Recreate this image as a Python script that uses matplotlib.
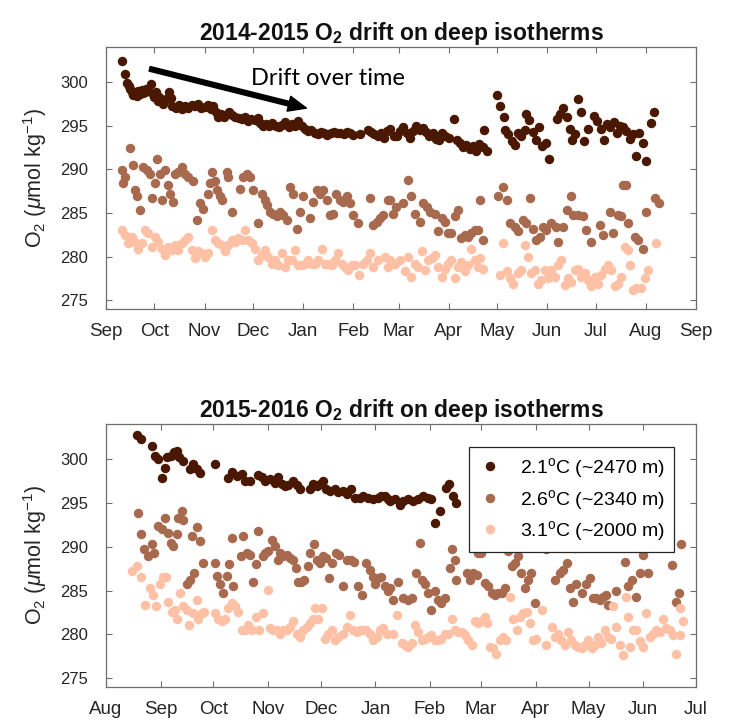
import numpy as np
import matplotlib
matplotlib.use('Agg')
import matplotlib.pyplot as plt
import matplotlib.dates as mdates

plt.rcParams['font.family'] = 'Liberation Sans'
plt.rcParams['mathtext.fontset'] = 'custom'
plt.rcParams['mathtext.rm'] = 'Liberation Sans'
plt.rcParams['mathtext.it'] = 'Liberation Sans:italic'
plt.rcParams['mathtext.bf'] = 'Liberation Sans:bold'

# ---- 2014-2015 (days since 2014-09-01) ----
start_a = '2014-09-01'
d21_a_day = [10, 12, 13, 14, 15, 16, 17, 18, 19, 20, 21, 22, 23, 24, 25, 26, 28, 29, 30, 31, 32, 33, 35, 36,
             37, 39, 40, 41, 43, 45, 47, 49, 51, 53, 55, 57, 59, 61, 63, 65, 66, 68, 69, 71, 73, 76, 78, 80,
             82, 84, 86, 88, 90, 92, 94, 95, 97, 99, 101, 103, 105, 107, 109, 111, 113, 115, 117, 119, 121,
             123, 125, 127, 129, 131, 133, 135, 137, 139, 141, 143, 145, 147, 149, 151, 153, 157, 162, 164,
             166, 168, 170, 172, 174, 176, 178, 180, 182, 184, 186, 188, 190, 192, 194, 196, 198, 200, 202,
             204, 206, 208, 210, 212, 215, 217, 219, 221, 223, 225, 227, 229, 231, 233, 234, 236,
             242, 244, 246, 247, 249, 251, 253, 255, 257, 259, 260, 262, 264, 266, 268, 270, 272, 274, 279,
             281, 283, 285, 287, 288, 290, 292, 294, 296, 298, 302, 304, 306, 308, 310, 312, 314, 316, 318,
             320, 322, 324, 326, 328, 330, 332, 334, 337, 339]
d21_a_o2 = [302.4, 300.9, 299.9, 299.5, 299.2, 298.8, 298.5, 298.9, 298.4, 299.0, 298.6, 299.1, 298.7, 298.9,
            299.2, 299.0, 299.8, 298.6, 298.3, 298.8, 297.8, 298.3, 297.5, 297.8, 298.1, 298.9, 298.2, 297.3,
            297.0, 297.4, 296.9, 297.2, 297.0, 297.4, 297.2, 297.5, 297.0, 297.1, 297.4, 296.9, 297.2, 296.6,
            296.0, 296.3, 296.0, 296.5, 296.2, 296.0, 295.9, 295.8, 296.0, 295.5, 295.8, 295.6, 295.9, 295.3,
            295.0, 295.2, 294.9, 295.3, 295.0, 294.8, 295.1, 295.4, 294.8, 295.2, 294.9, 295.5, 294.9, 294.6,
            294.4, 294.5, 294.2, 294.0, 294.3, 294.1, 293.9, 294.2, 294.3, 294.1, 294.2, 294.0, 294.3, 294.1,
            293.9, 294.0, 294.5, 294.3, 294.0, 293.8, 294.1, 293.6, 294.4, 294.6, 293.8, 293.8, 294.4, 294.8,
            294.2, 293.6, 294.4, 295.0, 294.5, 294.7, 294.3, 293.8, 294.1, 293.5, 293.3, 294.2, 293.8, 293.6,
            295.8, 293.4, 293.0, 292.5, 292.8, 292.3, 292.7, 292.1, 292.9, 292.5, 294.5, 292.1,
            298.5, 297.2, 296.0, 294.5, 294.0, 293.2, 292.8, 294.2, 293.8, 294.5, 296.3, 295.6, 294.3, 293.4,
            294.8, 292.7, 293.0, 291.2, 295.8, 296.3, 297.0, 296.0, 294.6, 293.4, 294.0, 298.0, 296.5, 293.2,
            294.6, 296.1, 295.5, 294.6, 293.4, 295.2, 294.8, 295.4, 294.2, 295.0, 294.8, 294.4, 293.5, 294.0,
            291.5, 294.1, 293.0, 290.9, 295.3, 296.5]

d26_a_day = [9.7, 11.8, 10.7, 14.8, 16.9, 17.9, 19.4, 21.0, 23.1, 25.1, 27.2, 28.2, 30.3, 31.7, 33.4, 34.4,
             36.5, 38.5, 39.6, 41.6, 42.7, 44.7, 46.8, 48.9, 50.9, 54.0, 56.1, 58.1, 60.2, 63.3, 64.3, 65.3,
             67.4, 68.4, 70.5, 71.5, 74.6, 75.6, 77.7, 82.9, 84.9, 87.0, 89.1, 91.1, 94.2, 96.3, 98.3, 99.4,
             101.4, 103.5, 105.5, 107.6, 109.7, 111.7, 113.8, 115.9, 117.9, 120.0, 122.0, 126.2, 128.2, 130.3,
             132.3, 134.4, 136.5, 138.5, 140.6, 142.6, 144.7, 146.8, 148.8, 150.9, 152.9, 156.0, 163.3, 165.3,
             167.4, 169.5, 171.5, 174.6, 175.6, 177.7, 179.7, 183.8, 186.9, 189.0, 191.1, 194.2, 196.2, 198.3,
             200.3, 203.4, 205.5, 207.6, 209.6, 211.7, 213.7, 215.8, 217.9, 219.9, 222.0, 224.0, 226.1, 228.2,
             230.2, 231.3, 233.3, 242.6, 245.7, 247.8, 249.8, 252.9, 255.0, 258.1, 260.1, 262.2, 264.2, 266.3,
             268.4, 270.4, 272.5, 275.6, 278.7, 279.7, 282.8, 284.9, 287.9, 289.0, 292.1, 295.2, 297.2, 300.3,
             305.5, 307.5, 311.7, 313.7, 316.8, 318.9, 319.9, 322.0, 323.0, 327.1, 329.2, 332.3, 334.3, 339.5,
             342.2]
d26_a_o2 = [289.9, 289.1, 288.4, 292.4, 290.5, 287.6, 286.9, 285.3, 290.3, 289.9, 289.5, 286.7, 288.4, 291.2,
            289.5, 286.5, 289.9, 288.2, 287.2, 286.3, 289.5, 289.7, 290.3, 289.5, 289.1, 288.6, 284.2, 286.1,
            285.5, 287.2, 288.4, 289.7, 288.6, 287.6, 286.9, 286.5, 289.7, 289.1, 285.1, 287.7, 289.1, 289.5,
            289.1, 287.6, 283.8, 287.2, 286.5, 285.9, 285.1, 284.9, 284.6, 285.1, 284.8, 284.2, 288.0, 287.2,
            283.2, 285.1, 286.9, 284.4, 286.3, 287.6, 287.2, 287.6, 286.5, 284.8, 284.9, 287.2, 286.5, 286.3,
            286.9, 286.1, 284.8, 283.8, 286.7, 283.6, 284.0, 284.4, 284.8, 286.5, 286.5, 284.9, 285.7, 286.1,
            288.8, 286.9, 284.9, 284.0, 286.1, 285.7, 285.1, 284.9, 282.9, 284.4, 284.0, 282.7, 282.7, 284.6,
            285.3, 282.1, 282.5, 282.3, 282.7, 283.0, 283.0, 286.5, 281.9, 286.9, 288.0, 286.5, 283.8, 283.4,
            282.9, 284.2, 283.8, 286.7, 283.2, 281.9, 282.3, 283.4, 283.0, 283.8, 283.4, 281.7, 283.4, 285.3,
            286.9, 284.8, 284.8, 284.6, 283.0, 281.7, 283.6, 282.5, 285.1, 282.7, 284.8, 284.6, 288.2, 288.2,
            283.8, 282.3, 281.9, 280.9, 285.1, 286.7, 286.1]

d31_a_day = [9.7, 11.8, 13.8, 15.9, 17.9, 20.0, 22.1, 24.1, 26.2, 28.2, 30.3, 32.4, 34.4, 36.5, 38.5, 40.6,
             42.7, 44.7, 46.8, 48.9, 50.9, 53.0, 55.0, 57.1, 59.2, 61.2, 63.3, 65.3, 67.4, 69.5, 71.5, 73.6,
             75.7, 77.7, 79.8, 81.8, 83.9, 86.0, 88.0, 90.1, 92.1, 94.2, 96.3, 98.3, 100.4, 102.5, 104.5,
             106.6, 108.6, 110.7, 112.8, 114.8, 116.9, 118.9, 121.0, 123.1, 125.1, 127.2, 129.3, 131.3, 133.4,
             135.4, 137.5, 139.6, 141.6, 143.7, 145.7, 147.8, 149.9, 151.9, 154.0, 156.7, 159.1, 161.2, 163.3,
             165.3, 168.4, 172.5, 174.6, 175.6, 178.7, 181.8, 184.9, 186.9, 189.0, 191.1, 193.1, 195.2, 197.2,
             199.3, 201.4, 203.4, 205.5, 207.6, 209.6, 211.7, 213.7, 215.8, 217.9, 219.9, 222.0, 224.0, 226.1,
             228.2, 230.2, 231.3, 233.3, 243.6, 245.7, 247.8, 249.8, 251.9, 255.0, 257.0, 259.1, 261.1, 263.2,
             265.3, 267.3, 269.4, 271.5, 273.5, 275.6, 277.6, 279.7, 281.8, 283.8, 285.9, 287.9, 290.0, 292.1,
             294.1, 296.2, 298.3, 300.3, 302.4, 304.4, 306.5, 308.6, 310.6, 312.7, 314.7, 316.8, 318.9, 320.9,
             323.0, 324.0, 326.1, 328.1, 331.2, 333.3, 335.4, 340.5]
d31_a_o2 = [283.0, 282.5, 281.5, 282.3, 281.7, 280.9, 281.5, 283.0, 282.7, 281.1, 282.3, 281.7, 280.9, 280.2,
            281.1, 280.8, 281.3, 280.8, 281.5, 281.9, 282.3, 280.8, 279.8, 280.6, 280.4, 280.0, 280.4, 283.0,
            281.9, 281.5, 281.3, 280.6, 281.3, 281.9, 281.7, 282.1, 281.9, 283.0, 281.9, 281.5, 280.9, 279.6,
            280.2, 280.8, 280.0, 279.2, 279.6, 279.0, 280.4, 278.8, 279.6, 279.6, 280.8, 279.0, 279.0, 279.2,
            279.6, 279.2, 279.2, 279.6, 280.9, 279.2, 279.2, 279.0, 279.6, 280.4, 279.2, 278.8, 278.5, 279.0,
            279.0, 277.9, 279.2, 279.6, 280.4, 278.8, 279.6, 280.0, 278.8, 279.6, 279.2, 279.6, 278.3, 280.0,
            277.7, 279.2, 278.8, 280.6, 278.5, 279.6, 279.8, 280.2, 278.8, 277.7, 278.6, 279.2, 279.6, 277.5,
            278.8, 279.4, 278.3, 279.0, 280.9, 279.6, 278.8, 279.8, 278.6, 277.9, 281.5, 278.3, 277.5, 276.9,
            278.1, 278.5, 281.3, 280.0, 278.1, 278.5, 276.9, 277.3, 278.5, 277.5, 278.5, 277.7, 279.0, 279.6,
            276.7, 277.5, 277.1, 278.5, 278.6, 277.7, 278.1, 277.3, 276.6, 277.7, 276.9, 277.9, 278.6, 279.0,
            278.5, 276.6, 276.9, 277.7, 281.1, 280.8, 279.0, 276.2, 276.4, 276.4, 277.5, 278.5, 281.5]

# ---- 2015-2016 (days since 2015-08-01) ----
start_b = '2015-08-01'
d21_b_day = [17.8, 19.9, 25.9, 27.8, 29.7, 31.6, 33.5, 34.8, 36.7, 38.6, 40.1, 41.6, 43.5, 47.7, 49.6, 51.5,
             53.3, 61.7, 69.4, 71.3, 74.2, 77.0, 78.9, 81.7, 86.4, 88.3, 90.2, 93.1, 95.9, 97.8, 99.7, 101.6,
             103.5, 106.3, 108.2, 110.1, 115.8, 117.7, 119.6, 121.5, 123.3, 125.2, 127.1, 130.0, 131.8, 134.7,
             136.6, 139.4, 141.3, 144.1, 146.0, 148.9, 151.7, 154.6, 156.4, 158.3, 160.2, 161.2, 164.0, 166.9,
             168.8, 171.6, 174.4, 177.3, 180.1, 183.0, 184.8, 186.7, 189.6, 193.0, 194.9, 196.8, 198.7]
d21_b_o2 = [302.75, 302.3, 301.5, 300.4, 300.0, 297.8, 299.0, 300.2, 300.4, 300.8, 300.95, 300.2, 299.8, 298.85,
            299.4, 298.85, 298.4, 299.4, 297.8, 298.5, 298.1, 298.3, 297.5, 297.5, 298.2, 297.9, 297.5, 297.7,
            297.3, 297.9, 297.1, 296.9, 297.0, 297.5, 297.0, 296.6, 296.6, 297.1, 296.9, 297.1, 297.5, 296.6,
            296.4, 296.6, 296.2, 296.4, 296.0, 296.6, 295.6, 295.6, 295.8, 295.6, 295.4, 295.6, 295.8, 295.8,
            295.4, 295.2, 295.4, 294.8, 295.2, 295.4, 295.2, 295.4, 295.8, 295.6, 295.4, 292.7, 294.1, 296.75,
            297.1, 295.8, 295.0]

d26_b_day = [18.3, 19.9, 21.6, 24.0, 25.9, 27.2, 29.7, 31.6, 33.5, 35.4, 36.7, 38.2, 40.1, 41.0, 42.9, 43.9,
             46.2, 47.7, 50.1, 48.6, 51.8, 53.3, 55.2, 61.9, 63.2, 64.7, 66.6, 68.5, 70.0, 72.3, 71.3, 76.4,
             77.9, 79.8, 81.7, 83.2, 85.1, 86.4, 88.9, 90.2, 92.1, 94.0, 95.9, 97.8, 98.7, 100.6, 102.5, 104.4,
             106.3, 107.8, 109.1, 111.0, 112.6, 114.8, 116.1, 118.2, 119.9, 121.4, 123.3, 125.2, 126.7, 128.6,
             130.5, 132.4, 134.7, 136.6, 139.4, 140.7, 143.2, 145.1, 147.6, 149.8, 151.7, 152.7, 154.6, 156.4,
             158.3, 160.2, 161.2, 163.1, 165.9, 168.8, 171.6, 173.5, 176.3, 178.2, 179.2, 181.1, 183.0, 184.8,
             186.7, 188.6, 190.5, 192.4, 195.3, 196.2, 198.1, 199.0, 204.7, 206.6, 208.5, 210.4, 211.3, 213.2,
             215.1, 217.0, 218.9, 220.8, 222.7, 224.6, 226.5, 228.4, 230.3, 232.1, 234.0, 235.9, 237.8, 239.7,
             241.6, 243.5, 250.1, 254.8, 257.7, 259.6, 260.5, 261.5, 263.4, 265.2, 266.2, 267.1, 270.0, 272.8,
             274.7, 276.6, 278.5, 280.4, 282.3, 283.8, 285.1, 289.8, 294.6, 296.5, 298.4, 301.2, 303.1, 305.0,
             307.8, 318.2, 321.6, 323.9, 325.4, 326.7]
d26_b_o2 = [293.8, 291.5, 289.7, 288.9, 290.3, 289.3, 292.35, 292.0, 293.3, 291.6, 290.4, 290.1, 291.4, 293.3,
            294.1, 293.1, 285.7, 286.2, 287.0, 291.2, 292.2, 290.6, 288.2, 288.2, 286.7, 285.7, 284.7, 286.7,
            288.0, 285.5, 291.0, 288.9, 291.2, 289.3, 289.1, 286.0, 288.0, 291.8, 288.9, 289.3, 289.5, 290.8,
            290.1, 288.5, 289.3, 288.9, 289.1, 288.7, 288.5, 287.6, 286.0, 286.0, 286.2, 287.8, 289.3, 290.3,
            288.5, 288.2, 288.9, 288.7, 286.4, 288.2, 289.3, 289.1, 285.5, 288.5, 288.5, 288.3, 285.5, 284.5,
            288.2, 287.4, 286.6, 285.7, 286.4, 286.6, 285.5, 284.9, 285.3, 283.9, 286.0, 284.1, 283.9, 284.1,
            287.0, 290.4, 286.2, 285.7, 284.7, 282.8, 284.9, 283.9, 283.6, 284.1, 287.6, 289.7, 288.5, 286.2,
            287.0, 286.2, 287.0, 286.8, 289.3, 289.3, 285.9, 285.5, 284.7, 284.5, 284.7, 284.7, 285.3, 289.5,
            287.8, 288.2, 288.9, 287.0, 285.3, 286.2, 287.0, 283.6, 289.7, 286.2, 287.0, 287.4, 290.1, 288.2,
            285.3, 283.7, 289.9, 285.7, 284.7, 285.7, 286.4, 284.1, 284.1, 283.9, 284.3, 284.5, 283.4, 284.9,
            288.3, 285.5, 286.2, 284.3, 287.0, 289.1, 287.0, 290.1, 287.9, 283.7, 284.7, 290.3]

d31_b_day = [14.6, 17.8, 19.9, 22.1, 25.0, 26.5, 28.4, 30.6, 32.5, 34.0, 35.4, 37.3, 39.1, 40.5, 42.0, 43.9,
             45.8, 47.3, 49.2, 51.5, 52.4, 54.3, 55.6, 61.9, 63.8, 65.6, 67.5, 69.4, 71.3, 73.2, 75.1, 77.0,
             78.9, 80.8, 82.7, 85.1, 87.0, 88.9, 92.1, 93.1, 95.0, 96.9, 98.7, 100.6, 102.5, 104.4, 106.3,
             108.2, 110.1, 112.0, 113.9, 115.8, 117.7, 118.6, 120.5, 122.4, 124.3, 126.2, 128.1, 130.0, 131.8,
             134.7, 136.6, 138.8, 140.4, 142.3, 144.1, 146.0, 147.9, 149.8, 151.7, 153.6, 155.5, 157.4, 159.3,
             163.1, 165.0, 167.8, 169.7, 171.6, 173.5, 175.4, 177.3, 179.2, 181.1, 183.0, 184.8, 186.7, 188.6,
             190.5, 192.4, 194.3, 196.2, 198.1, 200.0, 201.9, 203.8, 205.7, 207.6, 209.4, 211.3, 213.2, 215.1,
             216.1, 218.0, 219.8, 221.7, 223.6, 225.5, 227.4, 229.3, 231.2, 233.1, 235.0, 236.9, 238.8, 240.7,
             242.5, 244.4, 247.3, 250.1, 253.0, 254.8, 256.7, 258.6, 260.5, 262.4, 264.3, 266.2, 268.1, 270.0,
             271.9, 273.8, 275.7, 277.5, 279.4, 281.3, 283.2, 285.1, 287.0, 288.0, 289.8, 291.7, 293.6, 295.5,
             296.5, 297.4, 299.3, 301.2, 303.1, 305.0, 306.9, 308.8, 310.7, 312.5, 314.4, 316.3, 318.2, 320.1,
             322.0, 323.5, 325.8, 327.7, 325.8]
d31_b_o2 = [287.2, 287.8, 286.6, 283.4, 285.3, 284.5, 283.2, 285.7, 286.6, 286.6, 283.7, 282.6, 282.8, 281.8,
            284.7, 283.2, 282.8, 281.1, 282.4, 283.9, 281.8, 282.4, 282.6, 282.4, 281.8, 281.5, 281.7, 283.0,
            283.6, 283.2, 282.6, 280.5, 280.5, 281.1, 280.5, 282.0, 280.5, 282.4, 285.1, 280.7, 280.5, 280.5,
            280.1, 280.5, 280.5, 280.9, 281.5, 280.1, 279.7, 280.5, 280.9, 281.3, 281.7, 283.0, 281.8, 283.0,
            279.5, 280.1, 280.5, 279.4, 279.7, 280.1, 280.9, 282.2, 280.5, 280.3, 280.5, 280.5, 280.5, 280.1,
            279.4, 279.7, 280.5, 280.7, 280.1, 280.1, 282.2, 279.0, 278.8, 278.6, 279.0, 281.1, 280.3, 279.4,
            279.5, 279.7, 279.9, 279.4, 279.4, 279.5, 280.1, 280.1, 281.7, 280.5, 280.3, 280.3, 279.9, 279.4,
            278.8, 281.5, 281.3, 281.5, 282.0, 281.3, 278.6, 278.4, 277.8, 279.4, 279.7, 279.4, 284.3, 281.8,
            280.5, 282.0, 282.4, 282.6, 281.3, 279.4, 279.5, 282.8, 278.8, 280.9, 279.7, 280.1, 279.4, 278.8,
            280.3, 279.4, 278.8, 278.6, 278.4, 278.8, 279.4, 278.4, 278.8, 279.7, 279.0, 280.5, 279.7, 279.5,
            283.2, 280.9, 278.8, 277.6, 284.3, 282.0, 278.6, 280.5, 280.5, 279.2, 278.6, 282.4, 279.7, 280.1,
            280.5, 280.3, 281.8, 280.7, 280.5, 279.9, 277.8, 283.0, 281.5, 279.9]

labels = ['2.1$^{\\mathrm{o}}$C (~2470 m)', '2.6$^{\\mathrm{o}}$C (~2340 m)', '3.1$^{\\mathrm{o}}$C (~2000 m)']
colors = ['#4a1800', '#a86a4e', '#ffc1a5']
titles = ['2014-2015 O$_\\mathbf{2}$ drift on deep isotherms', '2015-2016 O$_\\mathbf{2}$ drift on deep isotherms']
xlims = [('2014-09-01', '2015-09-01'), ('2015-08-01', '2016-07-01')]
yticks = [275, 280, 285, 290, 295, 300]

# arrow annotation (days since start_a, O2)
arrow_from = (27, 301.5)
arrow_to = (124, 297.0)
arrow_text_pos = (89.5, 299.6)


def to_dates(start, days):
    return mdates.date2num(np.datetime64(start)) + np.asarray(days, dtype=float)


fig = plt.figure(figsize=(7.29, 7.24), dpi=100)
ax1 = fig.add_axes([0.1454, 0.5732, 0.8093, 0.3619])
ax2 = fig.add_axes([0.1454, 0.0511, 0.8093, 0.3633])

sets = [
    (ax1, start_a, [(d21_a_day, d21_a_o2), (d26_a_day, d26_a_o2), (d31_a_day, d31_a_o2)]),
    (ax2, start_b, [(d21_b_day, d21_b_o2), (d26_b_day, d26_b_o2), (d31_b_day, d31_b_o2)]),
]

for i, (ax, start, series) in enumerate(sets):
    for (dd, oo), c, lab in zip(series, colors, labels):
        ax.plot(to_dates(start, dd), oo, 'o', ms=6.8, color=c, mec=c, mew=0, label=lab)
    ax.set_xlim(mdates.date2num(np.datetime64(xlims[i][0])), mdates.date2num(np.datetime64(xlims[i][1])))
    ax.set_ylim(274, 304)
    ax.set_yticks(yticks)
    ax.xaxis.set_major_locator(mdates.MonthLocator())
    ax.xaxis.set_major_formatter(mdates.DateFormatter('%b'))
    ax.tick_params(direction='in', length=4, width=0.8, top=True, right=True,
                   colors='#6e6e6e', labelcolor='#262626')
    ax.tick_params(axis='y', pad=13, labelsize=12)
    ax.tick_params(axis='x', pad=10, labelsize=13.5)
    for s in ax.spines.values():
        s.set_color('#6e6e6e')
        s.set_linewidth(0.9)
    ax.set_ylabel('O$_2$ ($\\mathit{\\mu}$mol kg$^{-1}$)', fontsize=15.5, color='#262626', labelpad=8)
    ax.set_title(titles[i], fontsize=16.5, fontweight='bold', color='#111111', pad=5)

# drift arrow
ax1.annotate('', xy=(to_dates(start_a, arrow_to[0]), arrow_to[1]),
             xytext=(to_dates(start_a, arrow_from[0]), arrow_from[1]),
             arrowprops=dict(facecolor='black', edgecolor='black', width=3.4, headwidth=11,
                             headlength=13, shrink=0))
ax1.text(to_dates(start_a, arrow_text_pos[0]), arrow_text_pos[1], 'Drift over time',
         fontsize=17, family='Lato', ha='left', va='baseline', color='black')

leg = ax2.legend(loc='upper right', bbox_to_anchor=(0.963, 0.9125), fontsize=14, frameon=True,
                 fancybox=False, framealpha=1, edgecolor='#262626', handletextpad=0.9,
                 labelspacing=0.4, borderpad=0.45, handlelength=1.3, borderaxespad=0)
leg.get_frame().set_linewidth(0.9)

fig.savefig('out.png', dpi=100)
